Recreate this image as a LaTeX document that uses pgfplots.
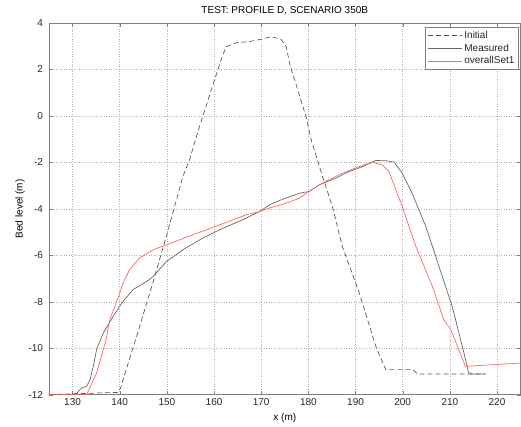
\documentclass[border=0pt]{standalone}
\usepackage{pgfplots}
\pgfplotsset{compat=1.18}
\usepackage{fontspec}
\setmainfont{Liberation Sans}
\begin{document}
\begin{tikzpicture}
\begin{axis}[
  scale only axis,
  width=472pt, height=372pt,
  xmin=125, xmax=225, ymin=-12, ymax=4,
  xtick={130,140,...,220},
  ytick={-12,-10,...,4},
  /pgf/number format/assume math mode=true,
  tick label style={font=\fontsize{10}{12}\selectfont, text=black!85},
  yticklabel style={xshift=-2.5pt},
  label style={font=\fontsize{10}{12}\selectfont, text=black!85},
  title style={font=\fontsize{10}{12}\selectfont, text=black!85},
  title={TEST: PROFILE D, SCENARIO 350B},
  every axis title/.style={at={(rel axis cs:0.5,1)}, yshift=12pt, anchor=center},
  xlabel={x (m)},
  ylabel={Bed level (m)},
  every axis x label/.style={at={(rel axis cs:0.5,0)}, yshift=-23.5pt, anchor=center},
  every axis y label/.style={at={(rel axis cs:0,0.5)}, xshift=-29pt, rotate=90, anchor=center},
  axis line style={black!50, line width=0.8pt},
  tick style={black!50},
  tick align=inside,
  major tick length=4pt,
  grid=major,
  grid style={black!30, dash pattern=on 1pt off 1.5pt, line width=0.5pt},
  legend style={at={(1,1)}, xshift=-2pt, yshift=-4pt, anchor=north east,
    draw=black!50, font=\fontsize{10}{12}\selectfont, text=black!85,
    inner sep=2pt, row sep=0pt},
  legend cell align=left,
  legend image post style={xscale=2},
]
\addplot[black!65, line width=0.7pt, dash pattern=on 5pt off 3pt] coordinates {
(125,-12) (133.7,-11.94) (136,-11.92) (139.7,-11.9) (140.2,-11.7) (140.7,-11.36)
(143.5,-9.55) (147,-7.2) (150,-5.1) (153.4,-2.61) (154.8,-1.89)
(157,-0.4) (160.8,1.98) (161.8,2.6) (162.6,2.98) (164.7,3.15) (167.5,3.2)
(170.3,3.31) (172.1,3.41) (174.2,3.30) (175.3,2.98) (176.0,2.27)
(179.5,-0.03) (180.6,-1.03) (183.0,-2.61) (185.1,-3.9) (187.2,-5.62)
(190.8,-7.63) (194.3,-9.92) (196.4,-10.92) (202.2,-10.92) (203.1,-11.11) (217.6,-11.11)
};
\addlegendentry{Initial}
\addplot[black!60, line width=0.7pt] coordinates {
(125,-12) (130,-12) (130.9,-11.93) (131.9,-11.71) (133,-11.64) (133.7,-11.35)
(134.4,-10.78) (135.1,-10.06) (136.5,-9.35) (138.6,-8.63) (140.7,-7.99)
(142.8,-7.48) (145.7,-7.13) (147.1,-6.91) (149.9,-6.27) (153.4,-5.76)
(157.6,-5.26) (161.2,-4.90) (166.1,-4.47) (169.6,-4.12) (172,-3.8)
(175,-3.55) (178.1,-3.33) (180.2,-3.25) (182.3,-2.97) (185.8,-2.68)
(188.6,-2.40) (191.5,-2.18) (194.3,-1.92) (196.5,-1.93) (198.2,-1.99) (199.9,-2.47)
(202.0,-3.33) (204.9,-4.76) (207.7,-6.48) (210.5,-8.2) (213.0,-10.21)
(214.0,-11.07) (215,-11.11) (217.6,-11.11)
};
\addlegendentry{Measured}
\addplot[red!60, line width=0.7pt] coordinates {
(125,-12) (133.0,-12) (134.4,-11.36) (135.1,-11.07) (137.1,-9.63) (137.9,-8.77)
(140,-7.63) (140.7,-7.2) (142.1,-6.62) (144.2,-6.12) (147.1,-5.76)
(149.9,-5.55) (155.5,-5.12) (161.2,-4.69) (166.8,-4.26) (169.6,-4.12)
(172,-3.95) (175,-3.78) (178.1,-3.54) (182.3,-2.97) (187.2,-2.47)
(190.8,-2.18) (193.6,-1.99) (195.7,-2.11) (197.1,-2.40) (199.9,-3.90)
(202.8,-5.62) (206.3,-7.34) (208.7,-8.77) (210.2,-9.2) (213.3,-10.78)
(224.8,-10.64) (225,-10.64)
};
\addlegendentry{overallSet1}
\end{axis}
\path[use as bounding box] ([xshift=-49pt,yshift=-32pt]current axis.south west) rectangle ([yshift=23pt]current axis.north east);
\end{tikzpicture}
\end{document}
